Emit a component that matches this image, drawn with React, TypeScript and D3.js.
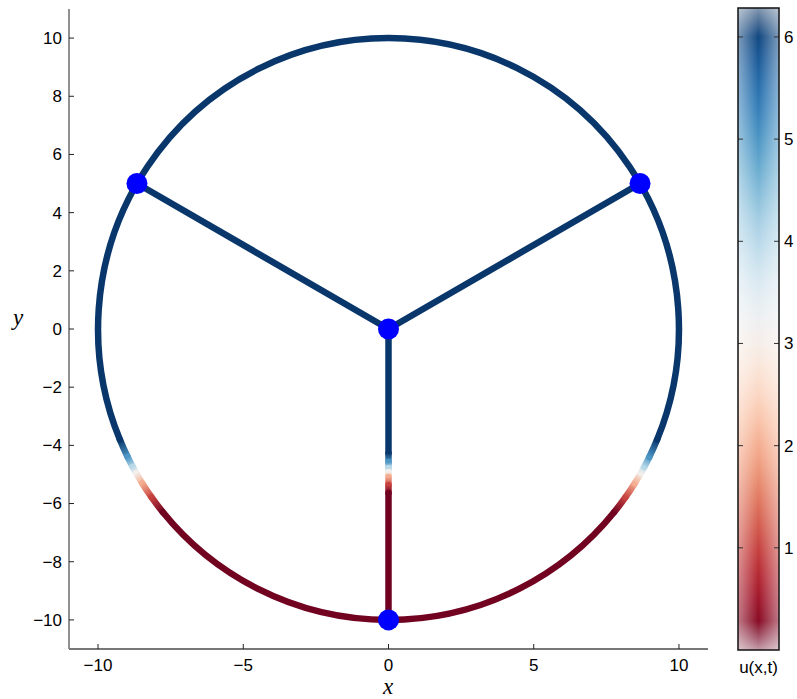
import React from "react";
import * as d3 from "d3";

// ---- data ----
const X_TICKS = [-10, -5, 0, 5, 10];
const Y_TICKS = [-10, -8, -6, -4, -2, 0, 2, 4, 6, 8, 10];
const CBAR_TICKS = [1, 2, 3, 4, 5, 6];
const NODE_X = [0, -8.66, 8.66, 0];
const NODE_Y = [0, 5, 5, -10];
const CIRCLE_R = 10;
const U_HIGH = 6.2;
const U_LOW = 0.08;
// transition knots on the ring (y position on each side) and their u
const ARC_KNOT_Y = [-3.8, -4.4, -4.74, -4.95, -5.3, -5.78, -6.3];
const ARC_KNOT_U = [6.2, 5, 4, 3.1, 2, 1, 0.08];
// transition knots on the lower spoke
const SPOKE_KNOT_Y = [-4.27, -4.57, -4.78, -4.92, -5.09, -5.36, -5.64];
const SPOKE_KNOT_U = [6.2, 5, 4, 3.1, 2, 1, 0.08];
const U_MAX = 2 * Math.PI;

const W = 797, H = 699;
const x = d3.scaleLinear().domain([-11, 11]).range([69, 708]);
const y = d3.scaleLinear().domain([-11, 11]).range([649, 9]);
const cb = d3.scaleLinear().domain([0, U_MAX]).range([650, 8]);
const color = d3.scaleSequential(d3.interpolateRdBu).domain([0, U_MAX]);
const CB_L = 738, CB_R = 779;
const LW = 6.5;
const FONT = "'Liberation Sans', Arial, Helvetica, sans-serif";
const SERIF = "'Liberation Serif', 'DejaVu Serif', serif";

type Seg = { x0: number; y0: number; x1: number; y1: number; u0: number; u1: number; d: string };

function arcSegs(): Seg[] {
  const ang: number[] = [];
  const us: number[] = [];
  ARC_KNOT_Y.forEach((yy, i) => { ang.push(180 - (Math.asin(yy / CIRCLE_R) * 180) / Math.PI); us.push(ARC_KNOT_U[i]); });
  const right: [number, number][] = ARC_KNOT_Y.map((yy, i) => [360 + (Math.asin(yy / CIRCLE_R) * 180) / Math.PI, ARC_KNOT_U[i]]);
  right.reverse().forEach(([a, u]) => { ang.push(a); us.push(u); });
  ang.push(ang[0] + 360); us.push(us[0]);
  const rx = x(CIRCLE_R) - x(0), ry = y(0) - y(CIRCLE_R);
  const segs: Seg[] = [];
  for (let i = 0; i < ang.length - 1; i++) {
    const a0 = (ang[i] * Math.PI) / 180, a1 = (ang[i + 1] * Math.PI) / 180;
    const x0 = x(CIRCLE_R * Math.cos(a0)), y0 = y(CIRCLE_R * Math.sin(a0));
    const x1 = x(CIRCLE_R * Math.cos(a1)), y1 = y(CIRCLE_R * Math.sin(a1));
    const large = ang[i + 1] - ang[i] > 180 ? 1 : 0;
    segs.push({ x0, y0, x1, y1, u0: us[i], u1: us[i + 1], d: `M${x0},${y0}A${rx},${ry} 0 ${large} 0 ${x1},${y1}` });
  }
  return segs;
}

function spokeSegs(): Seg[] {
  const segs: Seg[] = [];
  const line = (ax: number, ay: number, bx: number, by: number, u0: number, u1: number) => {
    const x0 = x(ax), y0 = y(ay), x1 = x(bx), y1 = y(by);
    segs.push({ x0, y0, x1, y1, u0, u1, d: `M${x0},${y0}L${x1},${y1}` });
  };
  line(NODE_X[0], NODE_Y[0], NODE_X[1], NODE_Y[1], U_HIGH, U_HIGH);
  line(NODE_X[0], NODE_Y[0], NODE_X[2], NODE_Y[2], U_HIGH, U_HIGH);
  const ys = [NODE_Y[0], ...SPOKE_KNOT_Y, NODE_Y[3]];
  const us = [U_HIGH, ...SPOKE_KNOT_U, U_LOW];
  for (let i = 0; i < ys.length - 1; i++) line(NODE_X[3], ys[i], NODE_X[3], ys[i + 1], us[i], us[i + 1]);
  return segs;
}

export default function App() {
  const segs = [...arcSegs(), ...spokeSegs()];
  const cbStops = d3.range(0, 41).map((i) => i / 40);
  return (
    <svg width={W} height={H} style={{ position: "absolute", left: 0, top: 0, background: "#fff" }}>
      <defs>
        {segs.map((s, i) => (
          <linearGradient key={i} id={`g${i}`} gradientUnits="userSpaceOnUse" x1={s.x0} y1={s.y0} x2={s.x1 + (s.x1 === s.x0 && s.y1 === s.y0 ? 1 : 0)} y2={s.y1}>
            <stop offset="0" stopColor={color(s.u0)} />
            <stop offset="1" stopColor={color(s.u1)} />
          </linearGradient>
        ))}
        <linearGradient id="cbv" x1="0" y1="1" x2="0" y2="0">
          {cbStops.map((t) => (
            <stop key={t} offset={t} stopColor={color(t * U_MAX)} />
          ))}
        </linearGradient>
        <linearGradient id="cbh" x1="0" y1="0" x2="1" y2="0">
          <stop offset="0" stopColor="#fff" stopOpacity={0.45} />
          <stop offset="0.5" stopColor="#fff" stopOpacity={0} />
          <stop offset="1" stopColor="#fff" stopOpacity={0.45} />
        </linearGradient>
        <linearGradient id="cbe" x1="0" y1="0" x2="0" y2="1">
          <stop offset="0" stopColor="#fff" stopOpacity={0.5} />
          <stop offset="0.045" stopColor="#fff" stopOpacity={0} />
          <stop offset="0.955" stopColor="#fff" stopOpacity={0} />
          <stop offset="1" stopColor="#fff" stopOpacity={0.6} />
        </linearGradient>
      </defs>

      {/* axes */}
      <line x1={69} y1={9} x2={69} y2={649} stroke="#222" strokeWidth={1} />
      <line x1={69} y1={649} x2={708} y2={649} stroke="#777" strokeWidth={2} />
      {Y_TICKS.map((t) => (
        <g key={`y${t}`}>
          <line x1={69} x2={74} y1={y(t)} y2={y(t)} stroke="#222" />
          <text x={62} y={y(t)} dy="0.35em" textAnchor="end" fontFamily={FONT} fontSize={17} fill="#000">
            {t < 0 ? `\u2212${-t}` : t}
          </text>
        </g>
      ))}
      {X_TICKS.map((t) => (
        <g key={`x${t}`}>
          <line x1={x(t)} x2={x(t)} y1={649} y2={644} stroke="#222" />
          <text x={x(t)} y={665} dy="0.35em" textAnchor="middle" fontFamily={FONT} fontSize={17} fill="#000">
            {t < 0 ? `\u2212${-t}` : t}
          </text>
        </g>
      ))}
      <text x={18} y={325} textAnchor="middle" fontFamily={SERIF} fontStyle="italic" fontSize={23}>y</text>
      <text x={388} y={694} textAnchor="middle" fontFamily={SERIF} fontStyle="italic" fontSize={23}>x</text>

      {/* graph edges */}
      {segs.map((s, i) => (
        <path key={i} d={s.d} fill="none" stroke={s.u0 === s.u1 ? color(s.u0) : `url(#g${i})`} strokeWidth={LW} strokeLinecap="round" />
      ))}
      {NODE_X.map((nx, i) => (
        <circle key={i} cx={x(nx)} cy={y(NODE_Y[i])} r={10.5} fill="#0000ff" />
      ))}

      {/* colorbar */}
      <rect x={CB_L} y={cb(U_MAX)} width={CB_R - CB_L} height={cb(0) - cb(U_MAX)} fill="url(#cbv)" />
      <rect x={CB_L} y={cb(U_MAX)} width={CB_R - CB_L} height={cb(0) - cb(U_MAX)} fill="url(#cbh)" />
      <rect x={CB_L} y={cb(U_MAX)} width={CB_R - CB_L} height={cb(0) - cb(U_MAX)} fill="url(#cbe)" />
      {CBAR_TICKS.map((t) => (
        <g key={`c${t}`}>
          <line x1={CB_L} x2={CB_L + 5} y1={cb(t)} y2={cb(t)} stroke="#333" />
          <line x1={CB_R - 5} x2={CB_R} y1={cb(t)} y2={cb(t)} stroke="#333" />
          <text x={784} y={cb(t)} dy="0.35em" fontFamily={FONT} fontSize={17} fill="#000">{t}</text>
        </g>
      ))}
      <rect x={CB_L} y={cb(U_MAX)} width={CB_R - CB_L} height={cb(0) - cb(U_MAX)} fill="none" stroke="#111" strokeWidth={1.5} />
      <text x={(CB_L + CB_R) / 2} y={667} dy="0.35em" textAnchor="middle" fontFamily={FONT} fontSize={17} fill="#000">u(x,t)</text>
    </svg>
  );
}
